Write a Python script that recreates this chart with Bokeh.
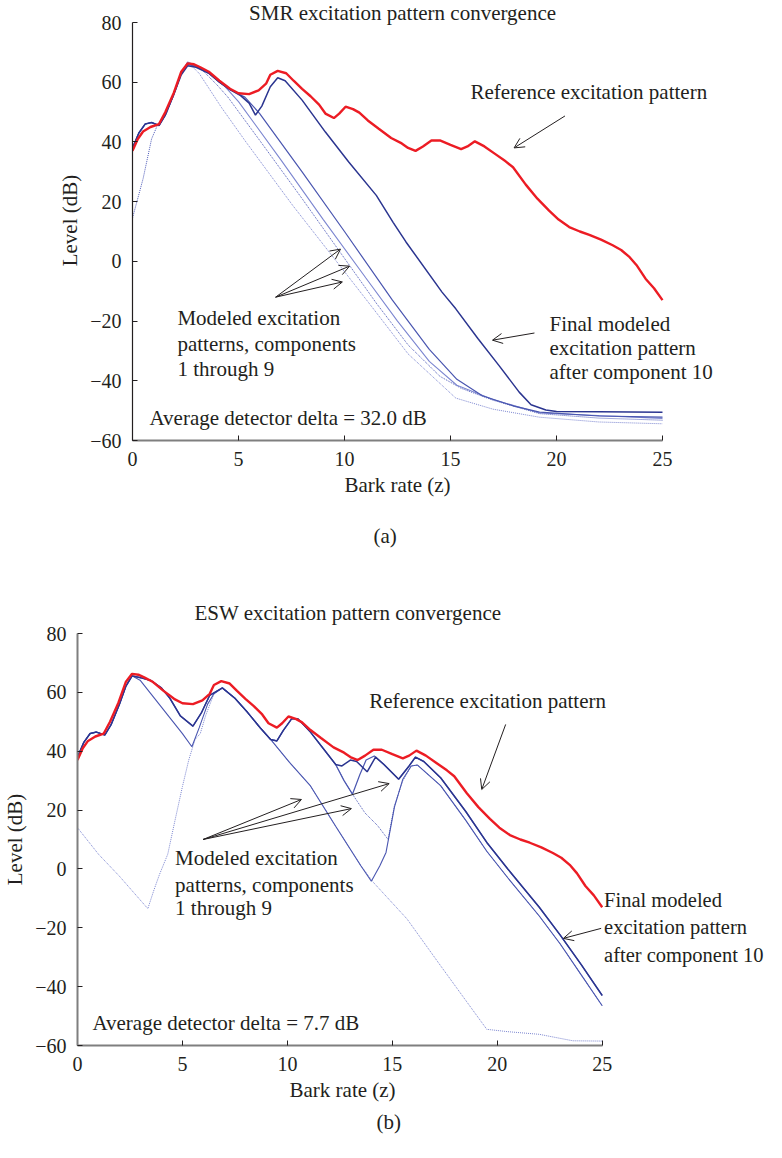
from bokeh.plotting import figure
from bokeh.models import Range1d, FixedTicker, Label, Arrow, OpenHead, Title
from bokeh.embed import file_html
from bokeh.resources import INLINE

# ---------------- data ----------------
x_ticks = [0, 5, 10, 15, 20, 25]
y_ticks = [-60, -40, -20, 0, 20, 40, 60, 80]

# reference excitation pattern (same in both panels)
ref_bark = [0.0, 0.25, 0.5, 0.85, 1.25, 1.55, 1.95, 2.3, 2.6, 2.9, 3.2, 3.6, 4.1, 4.6, 5.0, 5.5,
            5.95, 6.3, 6.5, 6.85, 7.25, 7.6, 8.0, 8.4, 8.8, 9.1, 9.5, 9.75, 10.05, 10.4, 10.7,
            11.1, 11.6, 12.2, 12.7, 13.0, 13.35, 13.7, 14.1, 14.5, 15.0, 15.5, 15.8, 16.15,
            16.6, 17.1, 17.6, 17.95, 18.55, 19.1, 19.65, 20.1, 20.6, 21.1, 21.55, 22.1, 22.65,
            23.05, 23.45, 23.8, 24.2, 24.6, 25.0]
ref_db = [37, 41, 43.5, 45, 46, 50, 56.5, 63.5, 66.3, 66, 65, 63.5, 60.5, 57.8, 56.3, 56,
          57.3, 59.5, 62.5, 63.8, 63, 60.5, 57.8, 55.3, 52.5, 49.5, 48, 49.5, 51.8, 51, 49.8,
          47.2, 44.5, 41.3, 39.5, 38, 37, 38.5, 40.5, 40.5, 39, 37.6, 38.5, 40.2,
          38.5, 36, 33.5, 31.5, 25.7, 21, 17, 14, 11.5, 10, 8.9, 7.3, 5.4,
          3.8, 1.4, -1.5, -5.8, -9, -13]

# SMR panel (a)
smr_final_bark = [0, 0.3, 0.6, 0.9, 1.25, 1.55, 1.95, 2.3, 2.6, 3.0, 3.6, 4.1, 4.6, 5.1, 5.5, 5.8,
                  6.1, 6.5, 6.85, 7.2, 8.0, 9.1, 10.2, 11.5, 12.3, 12.9, 14.6, 15.25, 16.3, 17.3,
                  18.24, 18.8, 19.5, 20.0, 22.0, 25.0]
smr_final_db = [38, 43, 46, 46.5, 45.5, 49, 56, 62.5, 65.5, 65, 63, 60, 57.5, 55.5, 53, 49,
                52, 58.5, 61.5, 60.5, 54, 43.3, 33.3, 22.1, 13, 6.5, -10.3, -15.9, -25.9, -35,
                -43.8, -48, -49.8, -50.3, -50.4, -50.5]
smr_c1_bark = [0, 0.5, 0.9, 1.2, 1.6, 2.0, 2.3, 2.6, 3.3, 4.0, 4.5, 6.0, 8.0, 10.0, 11.5, 13.0,
               14.5, 15.5, 17.0, 19.2, 22.0, 25.0]
smr_c1_db = [14.5, 27.7, 41, 46, 49.5, 56.5, 63, 66.5, 64, 59, 55, 40.5, 21, 1, -14, -28,
             -38.5, -42.5, -46.5, -51, -52.5, -53.2]
smr_c2_bark = [0, 0.3, 0.6, 0.9, 1.25, 1.55, 1.95, 2.3, 2.6, 3.15, 4.2, 5.35, 7.55, 10.06, 11.32,
               13.0, 15.25, 17.0, 19.2, 22.0, 25.0]
smr_c2_db = [38, 43, 46, 46.5, 45.5, 49, 56, 63, 66.8, 62.9, 51.5, 40, 18.8, -4, -15.5,
             -31, -45.8, -49.5, -52.2, -53.8, -54.4]
smr_c3_bark = [0, 0.3, 0.6, 0.9, 1.25, 1.55, 1.95, 2.3, 2.6, 3.0, 3.6, 4.3, 5.0, 7.0, 9.0, 11.0,
               12.5, 14.0, 15.3, 17.0, 19.2, 25.0]
smr_c3_db = [38, 43, 46, 46.5, 45.5, 49, 56, 63, 66.8, 65.5, 63, 59, 53.5, 34, 14, -5.5,
             -20, -33.5, -41.5, -46.3, -50.8, -52.6]
smr_c4_bark = [0, 0.3, 0.6, 0.9, 1.25, 1.55, 1.95, 2.3, 2.6, 3.0, 3.6, 4.1, 4.6, 5.3, 6.0, 8.0,
               10.0, 12.26, 14.0, 15.3, 16.5, 18.0, 19.2, 22.0, 25.0]
smr_c4_db = [38, 43, 46, 46.5, 45.5, 49, 56, 63, 66, 65.3, 63, 60, 57.5, 55, 49.5, 30,
             10, -13, -29.5, -39.5, -45, -48.5, -50.5, -51.8, -52.2]

# ESW panel (b)
esw_final_bark = [0, 0.3, 0.6, 0.9, 1.3, 1.6, 2.0, 2.3, 2.6, 3.0, 3.5, 4.0, 4.4, 4.9, 5.5, 5.9,
                  6.3, 6.9, 7.5, 8.1, 8.7, 9.2, 9.5, 9.8, 10.2, 10.5, 11.1, 11.7, 12.3, 12.6,
                  13.0, 13.3, 13.8, 14.2, 14.6, 15.3, 15.8, 16.1, 16.5, 17.3, 18.5, 19.5, 20.5,
                  22.0, 23.0, 24.0, 25.0]
esw_final_db = [38, 43, 46, 46.5, 45.5, 49, 56, 62, 65.6, 65, 64, 61.5, 58, 52, 48.5, 53,
                59, 61.5, 58, 53.2, 48, 44, 43.5, 47, 51, 51, 46.5, 41, 35.5, 35,
                37, 36.5, 33, 38, 35.5, 30.5, 35, 38, 36.5, 31, 19.5, 9, 0,
                -13, -22.5, -32.5, -43]
esw_b_bark = [0, 0.3, 0.6, 0.9, 1.3, 1.6, 2.0, 2.3, 2.6, 3.0, 3.5, 4.0, 4.4, 4.9, 5.5, 5.9,
              6.3, 6.9, 7.5, 8.1, 8.7, 9.2, 9.5, 9.8, 10.2, 10.5, 11.1, 11.7, 12.3, 12.7,
              13.1, 13.45, 13.75, 14.14, 14.6, 15.3, 15.8, 16.1, 16.5, 17.3, 18.5, 19.5, 20.5,
              22.0, 23.0, 24.0, 25.0]
esw_b_db = [38, 43, 46, 46.5, 45.5, 49, 56, 62, 65.6, 65, 64, 61.5, 58, 52, 48.5, 53,
            59, 61.5, 58, 53.2, 48, 44, 43.5, 47, 51, 51, 46.5, 41, 35.5, 30,
            25.4, 32, 37, 38.4, 35.5, 30.5, 35, 38, 36.5, 31, 19.5, 9, 0,
            -13, -22.5, -32.5, -43]
esw_c_bark = [0, 0.3, 0.6, 0.9, 1.3, 1.6, 2.0, 2.3, 2.6, 3.0, 3.5, 4.0, 4.4, 4.9, 5.5, 5.9,
              6.3, 6.9, 7.5, 8.1, 8.7, 9.2, 9.5, 9.8, 10.2, 10.5, 11.1, 11.7, 12.3, 12.7,
              13.1, 13.7, 14.3, 14.8, 15.1, 15.5, 15.9, 16.2, 17.3, 18.5, 19.5, 20.5, 22.0,
              23.0, 24.0, 25.0]
esw_c_db = [38, 43, 46, 46.5, 45.5, 49, 56, 62, 65.6, 65, 64, 61.5, 58, 52, 48.5, 53,
            59, 61.5, 58, 53.2, 48, 44, 43.5, 47, 51, 51, 46.5, 41, 35.5, 30,
            25.4, 19, 14.7, 10, 21.5, 30, 35, 35.3, 28.3, 16.5, 6, -3, -16,
            -25.5, -36, -46.5]
esw_d_bark = [0, 1.0, 2.0, 3.35, 3.65, 3.9, 4.3, 4.6, 5.0, 5.3, 5.6, 5.85, 6.1, 6.5, 6.9, 7.5,
              8.1, 8.7, 9.2, 10.1, 11.1, 12.3, 13.5, 14.1, 15.7, 17.3, 18.5, 19.5, 20.5, 22.0,
              23.6, 25.0]
esw_d_db = [14, 5, -2.5, -13.5, -7, -2, 5, 15, 28, 37, 44, 46, 52, 59.5, 61.5, 58,
            53.2, 48, 44, 36.2, 28.2, 14.5, 1.1, -4.6, -17, -32.9, -44.7, -54.5, -55.3, -56.2,
            -58.4, -58.5]
esw_e_bark = [0, 0.3, 0.6, 0.9, 1.3, 1.6, 2.0, 2.3, 2.6, 3.0, 3.5, 4.0, 4.5, 5.0, 5.45, 5.8,
              6.2, 6.5, 6.9, 7.5, 8.1, 8.7, 9.2, 10.1, 11.1, 12.3, 13.5, 14.0, 14.4, 14.7,
              15.1, 15.5, 15.9, 16.2, 17.3, 18.5, 19.5, 20.5, 22.0, 23.0, 24.0, 25.0]
esw_e_db = [38, 43, 46, 46.5, 45.5, 49, 56, 62, 65.6, 64, 59.5, 55, 50.5, 46, 41.5, 48,
            56, 59.5, 61.5, 58, 53.2, 48, 44, 36.2, 28.2, 14.5, 1.1, -4.2, 1, 5.6,
            21, 30.5, 35, 35.3, 28.3, 16.5, 6, -3, -16, -25.5, -36, -46.5]

# ---------------- style ----------------
FONT = "Liberation Serif"
TXT = "#231f20"
RED = "#ec1c24"
DARK = "#2b3590"
MID = "#4a56b0"
DOT = "#4d5ab8"
DOT_LIGHT = "#7c86d0"
W = 766


def make_panel(height, left, top, bottom, axis_px_x, axis_px_y, frame_h,
               y_axis_color, y_axis_width):
    # frame runs to the right canvas edge so annotations there are visible;
    # axes are bounded to the data extent
    frame_w = W - left
    x_end = 25 * frame_w / axis_px_x
    y_end = -60 + 140 * frame_h / axis_px_y
    p = figure(width=W, height=height, x_range=Range1d(0, x_end), y_range=Range1d(-60, y_end),
               output_backend="svg", toolbar_location=None,
               min_border_left=left, min_border_right=0,
               min_border_top=top, min_border_bottom=bottom)
    p.xgrid.visible = False
    p.ygrid.visible = False
    p.outline_line_color = None
    p.xaxis.bounds = (0, 25)
    p.yaxis.bounds = (-60, 80)
    p.xaxis.ticker = FixedTicker(ticks=x_ticks)
    p.yaxis.ticker = FixedTicker(ticks=y_ticks)
    p.yaxis.major_label_overrides = {v: ("\u2212" + str(-v) if v < 0 else str(v)) for v in y_ticks}
    for ax in (p.xaxis[0], p.yaxis[0]):
        ax.major_tick_in = 5
        ax.major_tick_out = 0
        ax.minor_tick_line_color = None
        ax.major_tick_line_color = TXT
        ax.major_label_text_font = FONT
        ax.major_label_text_font_size = "20px"
        ax.major_label_text_color = TXT
        ax.axis_label_text_font = FONT
        ax.axis_label_text_font_size = "21px"
        ax.axis_label_text_font_style = "normal"
        ax.axis_label_text_color = TXT
    p.xaxis.axis_line_color = "#7f7f7f"
    p.xaxis.axis_line_width = 2
    p.yaxis.axis_line_color = y_axis_color
    p.yaxis.axis_line_width = y_axis_width
    p.xaxis.major_label_standoff = 11
    p.yaxis.major_label_standoff = 11
    p.yaxis.axis_label_standoff = 5
    p.yaxis.axis_label = "Level (dB)"
    return p


def label(p, x, y, text, align="left", size="21px"):
    p.add_layout(Label(x=x, y=y, text=text, text_font=FONT, text_font_size=size,
                       text_color=TXT, text_align=align, text_baseline="middle"))


def arrow(p, x0, y0, x1, y1):
    p.add_layout(Arrow(end=OpenHead(size=10, line_width=1, line_color=TXT),
                       x_start=x0, y_start=y0, x_end=x1, y_end=y1,
                       line_width=1, line_color=TXT))


def side_title(p, text, offset, standoff, side):
    # titles placed beside the frame; offset is measured from the frame's left edge
    p.add_layout(Title(text=text, align="left", offset=offset, standoff=standoff,
                       text_font=FONT, text_font_size="21px", text_font_style="normal",
                       text_color=TXT), side)


# ---------------- panel (a) ----------------
pa = make_panel(580, 132, 0, 140, 530, 418, 440, TXT, 1.2)
pa.line(smr_c1_bark, smr_c1_db, line_color=DOT, line_width=1, line_dash="1 1")
pa.line(smr_c2_bark, smr_c2_db, line_color=DOT_LIGHT, line_width=1, line_dash="1 1")
pa.line(smr_c3_bark, smr_c3_db, line_color=DOT_LIGHT, line_width=1.1)
pa.line(smr_c4_bark, smr_c4_db, line_color=MID, line_width=1.2)
pa.line(smr_final_bark, smr_final_db, line_color=DARK, line_width=1.5)
pa.line(ref_bark, ref_db, line_color=RED, line_width=2.4)

label(pa, 12.74, 83.3, "SMR excitation pattern convergence", align="center")
label(pa, 15.94, 56.7, "Reference excitation pattern")
arrow(pa, 20.4, 48.7, 18.0, 38.0)
label(pa, 2.12, -19.0, "Modeled excitation")
label(pa, 2.12, -27.7, "patterns, components")
label(pa, 2.12, -36.1, "1 through 9")
arrow(pa, 6.75, -12.0, 9.81, 4.1)
arrow(pa, 6.75, -12.0, 10.24, -1.6)
arrow(pa, 6.75, -12.0, 9.9, -6.9)
label(pa, 19.67, -21.0, "Final modeled")
label(pa, 19.67, -29.0, "excitation pattern")
label(pa, 19.67, -37.1, "after component 10")
arrow(pa, 18.96, -24.0, 16.98, -26.4)
label(pa, 0.80, -52.5, "Average detector delta = 32.0 dB")
side_title(pa, "Bark rate (z)", 212, 4, "below")
side_title(pa, "(a)", 241, 46, "below")

# ---------------- panel (b) ----------------
pb = make_panel(562, 74, 53, 97, 527, 412, 412, "#7f7f7f", 2)
pb.line(esw_d_bark, esw_d_db, line_color=DOT_LIGHT, line_width=1, line_dash="1 1")
pb.line(esw_c_bark, esw_c_db, line_color=DOT, line_width=1, line_dash="1 1")
pb.line(esw_e_bark, esw_e_db, line_color=MID, line_width=1.1)
pb.line(esw_b_bark, esw_b_db, line_color=MID, line_width=1.2)
pb.line(esw_final_bark, esw_final_db, line_color=DARK, line_width=1.5)
pb.line(ref_bark, ref_db, line_color=RED, line_width=2.4)

side_title(pb, "ESW excitation pattern convergence", 117, 18, "above")
label(pb, 13.9, 56.9, "Reference excitation pattern")
arrow(pb, 20.4, 49.1, 19.26, 27.0)
label(pb, 4.65, 3.55, "Modeled excitation")
label(pb, 4.65, -5.3, "patterns, components")
label(pb, 4.65, -13.4, "1 through 9")
arrow(pb, 5.98, 10.0, 10.67, 23.6)
arrow(pb, 5.98, 10.0, 13.05, 20.5)
arrow(pb, 5.98, 10.0, 14.85, 29.0)
label(pb, 25.09, -10.4, "Final modeled", size="20.5px")
label(pb, 25.09, -19.9, "excitation pattern", size="20.5px")
label(pb, 25.09, -29.4, "after component 10", size="20.5px")
arrow(pb, 24.95, -20.2, 23.15, -23.6)
label(pb, 0.71, -52.2, "Average detector delta = 7.7 dB")
side_title(pb, "Bark rate (z)", 212, 4, "below")
side_title(pb, "(b)", 299, 8, "below")

open("out.html", "w").write(file_html([pa, pb], INLINE))
